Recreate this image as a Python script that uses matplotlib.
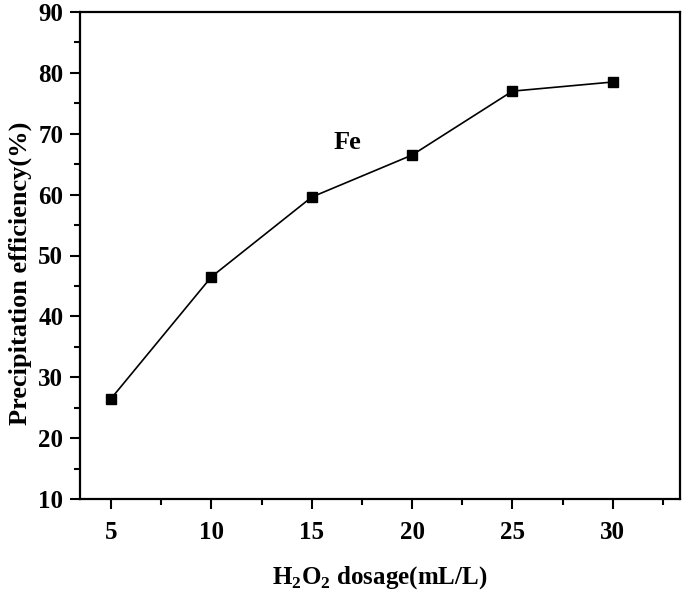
import matplotlib.pyplot as plt
from matplotlib.ticker import MultipleLocator

plt.rcParams['font.family'] = ['Liberation Serif', 'DejaVu Serif']
plt.rcParams['font.weight'] = 'bold'
plt.rcParams['mathtext.fontset'] = 'custom'
plt.rcParams['mathtext.rm'] = 'Liberation Serif:bold'
plt.rcParams['mathtext.bf'] = 'Liberation Serif:bold'

# H2O2 dosage (mL/L) and Fe precipitation efficiency (%)
dosage = [5, 10, 15, 20, 25, 30]
efficiency = [26.5, 46.5, 59.6, 66.5, 77.0, 78.5]

fig = plt.figure(figsize=(6.85, 5.94), dpi=100)
ax = fig.add_axes([80/685, 1 - 499/594, 600/685, 487/594])

ax.plot(dosage, efficiency, color='black', linewidth=1.2,
        marker='s', markersize=7.5, markerfacecolor='black')

ax.set_xlim(3.45, 33.35)
ax.set_ylim(10, 90)
ax.xaxis.set_major_locator(MultipleLocator(5))
ax.xaxis.set_minor_locator(MultipleLocator(2.5))
ax.yaxis.set_major_locator(MultipleLocator(10))
ax.yaxis.set_minor_locator(MultipleLocator(5))
ax.tick_params(which='both', direction='out', width=1.5, top=False, right=False)
ax.tick_params(which='major', length=7, labelsize=18)
ax.tick_params(axis='x', which='major', pad=9)
ax.tick_params(axis='y', which='major', pad=5)
ax.tick_params(which='minor', length=4)
for s in ax.spines.values():
    s.set_linewidth(1.6)

ax.text(16.8, 68.5, 'Fe', fontsize=19, fontweight='bold', ha='center', va='center')

ax.set_xlabel(r'H$_\mathrm{2}$O$_\mathrm{2}$ dosage(mL/L)', fontsize=18, fontweight='bold', labelpad=14)
ax.set_ylabel('Precipitation efficiency(%)', fontsize=19, fontweight='bold', va='center')
ax.yaxis.set_label_coords(-0.1, 0.464)

fig.savefig('out.png', dpi=100)
